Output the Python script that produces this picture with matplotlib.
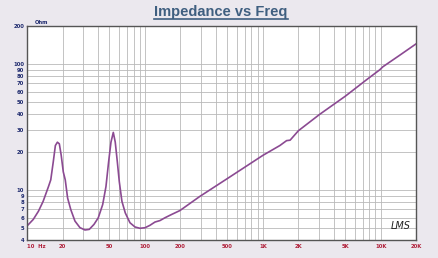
import matplotlib
matplotlib.use('Agg')
import matplotlib.pyplot as plt
from matplotlib.ticker import FixedLocator, NullFormatter
from matplotlib.lines import Line2D

# impedance curve (Hz, Ohm)
freqs = [10, 11.3, 12.5, 13.7, 15.2, 15.9, 16.7, 17.4, 18.1, 18.8, 19.5, 20.3, 21.1, 22.1,
         23.5, 25.5, 28.1, 31.0, 33.7, 37.0, 40.2, 43.8, 46.7, 49.2, 51.5, 53.9, 56.0,
         58.3, 60.6, 63.8, 68.1, 74.6, 82.3, 90.7, 100, 110, 121.6, 134, 147.7, 168,
         198, 292, 500, 1000, 1393, 1587, 1700, 2000, 3040, 5000, 7570, 9770, 10400,
         14500, 20000]
ohms = [5.16, 5.82, 6.76, 8.1, 10.6, 12.0, 16.7, 22.5, 23.9, 23.2, 18.8, 13.9, 12.0, 8.6,
        6.97, 5.65, 5.01, 4.80, 4.85, 5.32, 6.0, 7.63, 10.6, 16.7, 23.9, 28.6, 23.9,
        16.7, 11.6, 8.1, 6.56, 5.48, 5.07, 4.95, 5.0, 5.22, 5.55, 5.7, 6.0, 6.37,
        6.85, 8.87, 12.3, 18.8, 22.5, 24.6, 24.8, 29.5, 39.9, 55.5, 75, 89.8, 95,
        117.6, 145]

xtick_vals = [10, 20, 50, 100, 200, 500, 1000, 2000, 5000, 10000, 20000]
xtick_text = ['10  Hz', '20', '50', '100', '200', '500', '1K', '2K', '5K', '10K', '20K']
ytick_vals = [4, 5, 6, 7, 8, 9, 10, 20, 30, 40, 50, 60, 70, 80, 90, 100, 200]

fig = plt.figure(figsize=(4.39, 2.58), dpi=100, facecolor='#ebe8ee')
ax = fig.add_axes([0.0615, 0.07, 0.887, 0.829])
ax.set_facecolor('white')

ax.plot(freqs, ohms, color='#8b4a92', lw=1.2)

ax.set_xscale('log')
ax.set_yscale('log')
ax.set_xlim(10, 20000)
ax.set_ylim(4, 200)

# grid at every 1..9 step of each decade
xgrid = [m * 10 ** d for d in range(1, 5) for m in range(1, 10) if m * 10 ** d <= 20000]
ax.xaxis.set_major_locator(FixedLocator(xtick_vals))
ax.xaxis.set_minor_locator(FixedLocator(xgrid))
ax.set_xticklabels(xtick_text)
ax.xaxis.set_minor_formatter(NullFormatter())
ax.yaxis.set_major_locator(FixedLocator(ytick_vals))
ax.yaxis.set_minor_locator(FixedLocator([]))
ax.set_yticklabels([str(v) for v in ytick_vals])
ax.yaxis.set_minor_formatter(NullFormatter())

ax.grid(True, which='both', color='#b9b9b9', lw=0.6)
ax.tick_params(which='both', length=0)
ax.tick_params(axis='x', labelsize=3.8, labelcolor='#b0203a', pad=3)
ax.tick_params(axis='y', labelsize=3.8, labelcolor='#1e2a6e', pad=2)
for lab in ax.get_xticklabels() + ax.get_yticklabels():
    lab.set_fontweight('bold')
ax.get_xticklabels()[0].set_horizontalalignment('left')

for s in ax.spines.values():
    s.set_color('#555555')
    s.set_linewidth(1.0)

ax.text(0.02, 1.003, 'Ohm', transform=ax.transAxes, fontsize=3.8, color='#1e2a6e',
        fontweight='bold', va='bottom', ha='left')
ax.text(0.985, 0.04, 'LMS', transform=ax.transAxes, fontsize=7, style='italic',
        color='#222222', ha='right', va='bottom', family='DejaVu Sans')

title = fig.text(0.503, 0.955, 'Impedance vs Freq', ha='center', va='center',
                 fontsize=10.5, fontweight='bold', color='#3f5f80', family='Liberation Sans')

# underline the title
fig.canvas.draw()
bb = title.get_window_extent().transformed(fig.transFigure.inverted())
fig.add_artist(Line2D([bb.x0, bb.x1], [bb.y0 - 0.002, bb.y0 - 0.002],
                      transform=fig.transFigure, color='#3f5f80', lw=1.2))

fig.savefig('out.png', dpi=100, facecolor=fig.get_facecolor())
